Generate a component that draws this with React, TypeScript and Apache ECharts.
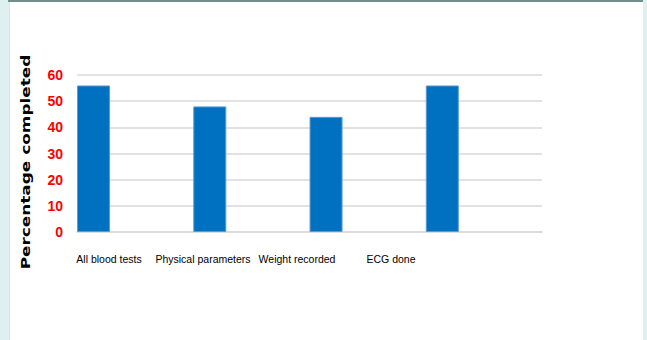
import React, { useEffect, useRef } from "react";
import * as echarts from "echarts";

const categories = ["All blood tests", "Physical parameters", "Weight recorded", "ECG done"];
const completed = [56, 48, 44, 56];
const emptySeries = [null, null, null, null];
const yTicks = [0, 10, 20, 30, 40, 50, 60];
const yTitle = "Percentage completed";

export default function App() {
  const ref = useRef<HTMLDivElement>(null);
  useEffect(() => {
    if (!ref.current) return;
    const chart = echarts.init(ref.current, undefined, { renderer: "svg" });
    chart.setOption({
      animation: false,
      backgroundColor: "transparent",
      grid: [
        { left: 77, right: 105, top: 75, bottom: 108, containLabel: false },
        { left: 62, width: 376, top: 75, bottom: 108, containLabel: false },
      ],
      xAxis: [
        {
          type: "category",
          gridIndex: 0,
          data: categories,
          axisLine: { show: true, lineStyle: { color: "#d9d9d9", width: 1.5 } },
          axisTick: { show: false },
          axisLabel: { show: false },
        },
        {
          type: "category",
          gridIndex: 1,
          data: categories,
          axisLine: { show: false },
          axisTick: { show: false },
          axisLabel: {
            show: true,
            margin: 21,
            color: "#000",
            fontFamily: "'Liberation Sans', Arial, sans-serif",
            fontSize: 10.5,
            interval: 0,
          },
        },
      ],
      yAxis: [
        {
          type: "value",
          gridIndex: 0,
          min: yTicks[0],
          max: yTicks[yTicks.length - 1],
          interval: 10,
          axisLine: { show: false },
          axisTick: { show: false },
          splitLine: { lineStyle: { color: "#d9d9d9", width: 1.5 } },
          axisLabel: {
            margin: 14,
            color: "#ff0000",
            fontFamily: "'Liberation Sans', Arial, sans-serif",
            fontWeight: "bold",
            fontSize: 14,
          },
        },
        {
          type: "value",
          gridIndex: 1,
          show: false,
          min: 0,
          max: 60,
        },
      ],
      series: [
        {
          type: "bar",
          xAxisIndex: 0,
          yAxisIndex: 0,
          data: completed,
          barWidth: 33,
          barGap: "152%",
          barCategoryGap: "0%",
          itemStyle: { color: "#0070c0", borderColor: "#5a9ad6", borderWidth: 1 },
        },
        {
          type: "bar",
          xAxisIndex: 0,
          yAxisIndex: 0,
          data: emptySeries,
          barWidth: 33,
          barGap: "152%",
          barCategoryGap: "0%",
          itemStyle: { color: "#0070c0" },
        },
        {
          type: "bar",
          xAxisIndex: 1,
          yAxisIndex: 1,
          data: emptySeries,
          silent: true,
        },
      ],
      graphic: [
        {
          type: "text",
          x: 26,
          y: 162,
          rotation: Math.PI / 2,
          scaleX: 1.3,
          scaleY: 1,
          style: {
            text: yTitle,
            fill: "#000",
            font: "bold 13px 'DejaVu Sans'",
            align: "center",
            verticalAlign: "middle",
          },
        },
      ],
    });
    return () => chart.dispose();
  }, []);

  return (
    <div
      style={{
        position: "absolute",
        left: 0,
        top: 0,
        width: 647,
        height: 340,
        background: "#dff0f0",
        overflow: "hidden",
      }}
    >
      <div
        style={{
          position: "absolute",
          left: 9,
          top: 0,
          width: 634,
          height: 340,
          background: "#ffffff",
          borderLeft: "1px solid #e2e2e2",
          boxSizing: "border-box",
        }}
      />
      <div
        style={{
          position: "absolute",
          left: 8,
          top: 0,
          width: 635,
          height: 2,
          background: "#728f8f",
        }}
      />
      <div ref={ref} style={{ position: "absolute", left: 0, top: 0, width: 647, height: 340 }} />
    </div>
  );
}
